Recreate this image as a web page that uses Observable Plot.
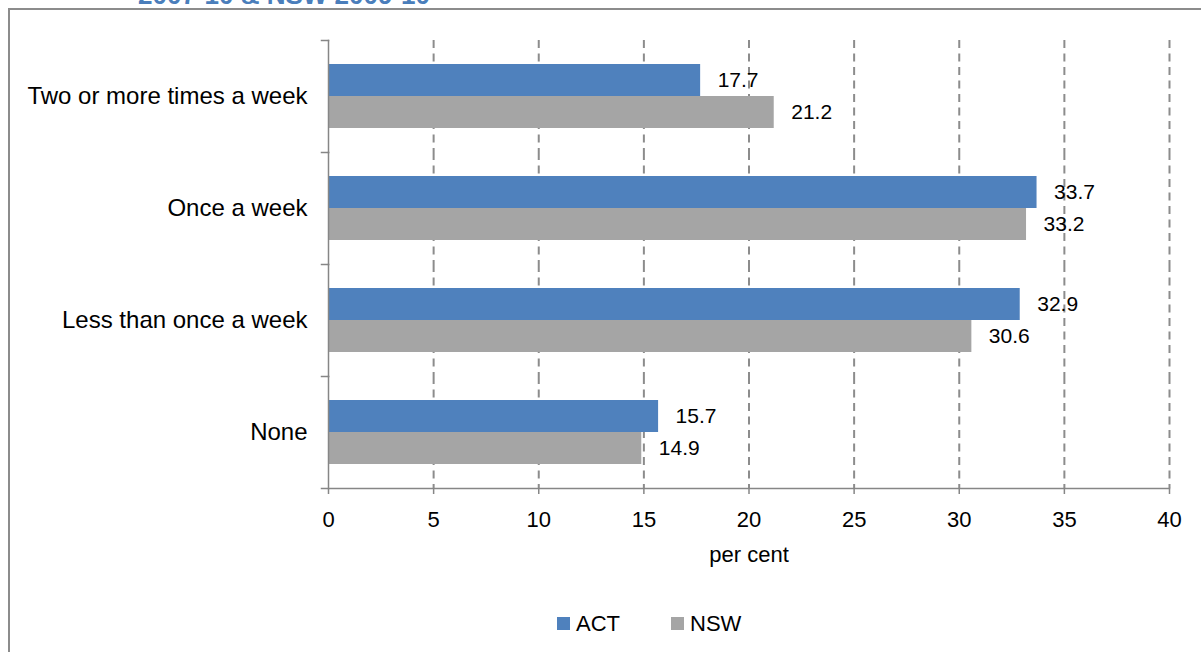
<!DOCTYPE html>
<html>
<head>
<meta charset="utf-8">
<script src="https://cdn.jsdelivr.net/npm/d3@7"></script>
<script src="https://cdn.jsdelivr.net/npm/@observablehq/plot@0.6"></script>
<style>
html, body { margin:0; padding:0; overflow:hidden; background:#fff; width:1201px; height:652px; }
body { position:relative; font-family:"Liberation Sans", Arial, sans-serif; }
#frame { position:absolute; left:8px; top:8px; width:1400px; height:900px; border:2px solid #8c8c8c; box-sizing:border-box; }
#title { position:absolute; left:138px; top:-18px; font-size:26px; line-height:26px; font-weight:bold; color:#4a7ebb; white-space:nowrap; }
#chart { position:absolute; left:0; top:0; }
#legend { position:absolute; top:612px; left:557px; height:24px; font-size:22px; line-height:24px; color:#000; white-space:nowrap; }
#legend .item { position:absolute; top:0; }
#legend .sw { position:absolute; top:5px; width:13px; height:13px; }
#legend .lab { position:absolute; top:0; }
</style>
</head>
<body>
<div id="title">2007-10 &amp; NSW 2009-10</div>
<div id="frame"></div>
<div id="chart"></div>
<div id="legend"></div>
<script>
const categories = ["Two or more times a week", "Once a week", "Less than once a week", "None"];
const series = ["ACT", "NSW"];
const actValues = [17.7, 33.7, 32.9, 15.7];
const nswValues = [21.2, 33.2, 30.6, 14.9];
const xTicks = [0, 5, 10, 15, 20, 25, 30, 35, 40];
const colors = ["#4f81bd", "#a5a5a5"];
const axisLabel = "per cent";

const rows = categories.flatMap((c, i) => [
  {category: c, series: "ACT", value: actValues[i]},
  {category: c, series: "NSW", value: nswValues[i]}
]);

const axisColor = "#868686";
const chart = Plot.plot({
  width: 1201,
  height: 580,
  marginLeft: 328,
  marginRight: 32,
  marginTop: 38,
  marginBottom: 91,
  style: {fontFamily: "'Liberation Sans', Arial, sans-serif", fontSize: "22px", color: "#000", background: "transparent"},
  x: {domain: [0, 40], ticks: xTicks},
  y: {domain: series, paddingInner: 0, paddingOuter: 0.745, axis: null},
  fy: {domain: categories, padding: 0, axis: null},
  color: {domain: series, range: colors},
  marks: [
    Plot.gridX({ticks: xTicks.filter(t => t > 0), stroke: "#8c8c8c", strokeOpacity: 1, strokeWidth: 2, strokeDasharray: "8,5.5"}),
    Plot.barX(rows, {x: "value", y: "series", fy: "category", fill: "series"}),
    Plot.frame({anchor: "left", stroke: axisColor, strokeWidth: 1.5}),
    Plot.frame({anchor: "top", stroke: axisColor, strokeWidth: 1.5, insetLeft: -7, insetRight: 841}),
    Plot.frame({anchor: "bottom", facetAnchor: "bottom", stroke: axisColor, strokeWidth: 1.5, insetLeft: -7}),
    Plot.axisX({ticks: xTicks, tickSize: 6, tickPadding: 17, stroke: axisColor, strokeWidth: 1.5, label: axisLabel, labelAnchor: "center", labelArrow: "none", labelOffset: 73}),
    Plot.axisFy({anchor: "left", tickSize: 0, tickPadding: 21, fontSize: 24, label: null}),
    Plot.text(rows, {x: "value", y: "series", fy: "category", text: d => d.value.toFixed(1), textAnchor: "start", dx: 17, fontSize: 21, fill: "#000"})
  ]
});
document.getElementById("chart").appendChild(chart);

const legend = document.getElementById("legend");
const offsets = [0, 114];
series.forEach((s, i) => {
  const item = document.createElement("div");
  item.className = "item";
  item.style.left = offsets[i] + "px";
  item.innerHTML = `<div class="sw" style="left:0;background:${colors[i]}"></div><div class="lab" style="left:19px">${s}</div>`;
  legend.appendChild(item);
});
</script>
</body>
</html>
